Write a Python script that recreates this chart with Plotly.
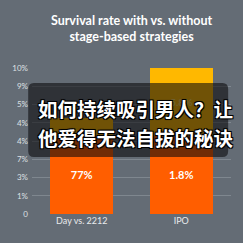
import plotly.graph_objects as go

categories = ["Day vs. 2212", "IPO"]
base_values = [4.3, 4.3]
base_labels = ["77%", "1.8%"]
top_values = [0.95, 3.7]
top_labels = ["", "5.8%"]
tick_vals = [0, 1, 2, 3, 4, 5, 6, 7, 8]
tick_text = ["0", "1%", "3%", "7%", "4%", "4%", "5%", "9%", "10%"]
title_text = "Survival rate with vs. without<br>stage-based strategies"
overlay_lines = ["如何持续吸引男人？让", "他爱得无法自拔的秘诀"]

S = 243
L, R, T, B = 21, 12, 68, 29
W = S - L - R
H = S - T - B

def px(x):
    return (x - L) / W

def py(y):
    return (S - B - y) / H

BG = "#646c75"

fig = go.Figure()
fig.add_trace(go.Bar(
    x=categories, y=base_values, text=base_labels,
    marker=dict(color="#ff5e00", line=dict(width=0)),
    textposition="inside", insidetextanchor="middle", textangle=0,
    textfont=dict(color="white", size=11, family="Lato", weight="bold"),
    hoverinfo="skip",
))
fig.add_trace(go.Bar(
    x=categories, y=top_values, text=top_labels,
    marker=dict(color="#ffb800", line=dict(width=0)),
    textposition="inside", insidetextanchor="middle", textangle=0,
    textfont=dict(color="#ffd966", size=10, family="Lato", weight="bold"),
    hoverinfo="skip",
))

# overlay rounded rectangle
x0, x1, y0, y1, r = 17, 228, 83, 157, 6
rx, ry = r / W, r / H
X0, X1, Y0, Y1 = px(x0), px(x1), py(y1), py(y0)
path = (f"M {X0+rx},{Y1} L {X1-rx},{Y1} Q {X1},{Y1} {X1},{Y1-ry} "
        f"L {X1},{Y0+ry} Q {X1},{Y0} {X1-rx},{Y0} L {X0+rx},{Y0} "
        f"Q {X0},{Y0} {X0},{Y0+ry} L {X0},{Y1-ry} Q {X0},{Y1} {X0+rx},{Y1} Z")

shadow = "-1px -1px 0 #000, 1px -1px 0 #000, -1px 1px 0 #000, 1px 1px 0 #000, 0 0 2px #000"
annotations = []
for i, line in enumerate(overlay_lines):
    annotations.append(dict(
        x=px(27), y=py(108 + i * 29), xref="paper", yref="paper",
        xanchor="left", yanchor="middle", align="left", showarrow=False, text=line,
        borderpad=0, borderwidth=0,
        font=dict(family="Noto Sans CJK SC", size=19.5, color="white", weight="bold", shadow=shadow),
    ))

fig.update_layout(
    width=S, height=S,
    margin=dict(l=L, r=R, t=T, b=B, pad=0),
    paper_bgcolor=BG, plot_bgcolor=BG,
    barmode="stack", bargap=0.37, showlegend=False,
    title=dict(text=title_text, x=0.5, xanchor="center", xref="paper",
               y=1 - 25 / S, yanchor="middle", yref="container",
               font=dict(family="Lato", size=12.5, color="white", weight="bold")),
    xaxis=dict(showgrid=False, zeroline=False, showline=False, ticks="",
               tickfont=dict(family="Lato", size=9, color="#e8eaec"), fixedrange=True),
    yaxis=dict(range=[0, 8], tickvals=tick_vals, ticktext=tick_text,
               showgrid=True, gridcolor="#7f878f", gridwidth=1, zeroline=False,
               showline=False, ticks="", ticklabelstandoff=3,
               tickfont=dict(family="Lato", size=8, color="#dde0e3"), fixedrange=True),
    shapes=[dict(type="path", path=path, xref="paper", yref="paper",
                 fillcolor="rgba(8,8,10,0.58)", line=dict(width=0), layer="above")],
    annotations=annotations,
)
fig.write_html("out.html")
